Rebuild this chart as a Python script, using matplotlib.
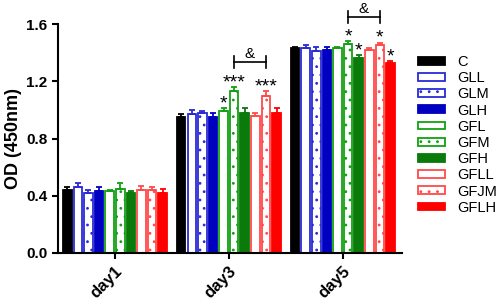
import matplotlib
matplotlib.use("Agg")
import matplotlib.pyplot as plt
from matplotlib.patches import Patch
import numpy as np

plt.rcParams['font.family'] = ['Liberation Sans', 'DejaVu Sans']
plt.rcParams['hatch.linewidth'] = 0.8

days = ["day1", "day3", "day5"]
groups = ["C", "GLL", "GLM", "GLH", "GFL", "GFM", "GFH", "GFLL", "GFJM", "GFLH"]
day1 = [0.44, 0.46, 0.42, 0.43, 0.43, 0.45, 0.42, 0.44, 0.44, 0.42]
day3 = [0.95, 0.97, 0.975, 0.95, 0.99, 1.13, 0.98, 0.96, 1.10, 0.98]
day5 = [1.43, 1.43, 1.41, 1.42, 1.43, 1.46, 1.36, 1.42, 1.45, 1.33]
err1 = [0.02, 0.03, 0.02, 0.03, 0.01, 0.04, 0.01, 0.03, 0.02, 0.03]
err3 = [0.02, 0.03, 0.02, 0.03, 0.02, 0.03, 0.03, 0.02, 0.03, 0.03]
err5 = [0.01, 0.02, 0.03, 0.02, 0.01, 0.02, 0.02, 0.01, 0.02, 0.01]

edge = ["#000000", "#2a2ad6", "#2a2ad6", "#0000c0", "#11a011", "#11a011", "#0a7a0a", "#ff4a4a", "#ff4a4a", "#ff0000"]
face = ["#000000", "white", "white", "#0000c0", "white", "white", "#0a7a0a", "white", "white", "#ff0000"]
hatch = [None, None, "..", None, None, "..", None, None, "..", None]

# significance annotations: (day index, group index, label)
stars = [(1, 4, "*"), (1, 5, "***"), (1, 8, "***"),
         (2, 5, "*"), (2, 6, "*"), (2, 8, "*"), (2, 9, "*")]
brackets = [(1, 5, 8, "&", 0.175), (2, 5, 8, "&", 0.17)]

vals = np.array([day1, day3, day5])
errs = np.array([err1, err3, err5])

fig = plt.figure(figsize=(4.98, 3.0), dpi=100)
ax = fig.add_axes([58/498, 1-253/300, (402-58)/498, (253-24)/300])

n = len(groups)
slot = 0.093
bw = 0.075
x = np.arange(len(days))
for i in range(n):
    xs = x + (i - (n-1)/2) * slot
    ax.bar(xs, vals[:, i], width=bw, color=face[i], edgecolor=edge[i],
           linewidth=1.3, hatch=hatch[i], zorder=2)
    ax.errorbar(xs, vals[:, i], yerr=[np.zeros(3), errs[:, i]], fmt='none',
                ecolor=edge[i], elinewidth=1.3, capsize=2.5, capthick=1.3, zorder=3)

def gx(d, g):
    return x[d] + (g - (n-1)/2) * slot

for d, g, lab in stars:
    top = vals[d, g] + errs[d, g]
    ax.text(gx(d, g), top + 0.0, lab, ha='center', va='baseline', fontsize=14,
            clip_on=False)

for d, g1, g2, lab, off in brackets:
    yb = max(vals[d, g1] + errs[d, g1], vals[d, g2] + errs[d, g2]) + off
    x1, x2 = gx(d, g1), gx(d, g2)
    ax.plot([x1, x2], [yb, yb], color='black', lw=1.2, clip_on=False)
    ax.plot([x1, x1], [yb-0.04, yb+0.04], color='black', lw=1.2, clip_on=False)
    ax.plot([x2, x2], [yb-0.04, yb+0.04], color='black', lw=1.2, clip_on=False)
    ax.text((x1+x2)/2, yb + 0.03, lab, ha='center', va='baseline', fontsize=11,
            clip_on=False)

ax.set_xlim(-0.5, 2.52)
ax.set_ylim(0, 1.6)
ax.set_yticks([0.0, 0.4, 0.8, 1.2, 1.6])
ax.set_yticklabels(["0.0", "0.4", "0.8", "1.2", "1.6"], fontweight='bold', fontsize=11)
ax.set_xticks(x)
ax.set_xticklabels(days, rotation=45, ha='right', rotation_mode='anchor',
                   fontweight='bold', fontsize=12)
ax.set_ylabel("OD (450nm)", fontweight='bold', fontsize=13, labelpad=3)
for s in ['top', 'right']:
    ax.spines[s].set_visible(False)
for s in ['left', 'bottom']:
    ax.spines[s].set_linewidth(1.5)
ax.tick_params(width=1.5, length=4)

handles = [Patch(facecolor=face[i], edgecolor=edge[i], hatch=hatch[i], linewidth=1.3)
           for i in range(n)]
fig.legend(handles, groups, loc='upper left', bbox_to_anchor=(418/498, 1-55/300),
           frameon=False, fontsize=10.5, handlelength=1.85, handleheight=0.45,
           labelspacing=0.15, handletextpad=0.85, borderpad=0, borderaxespad=0)

fig.savefig("out.png", dpi=100)
